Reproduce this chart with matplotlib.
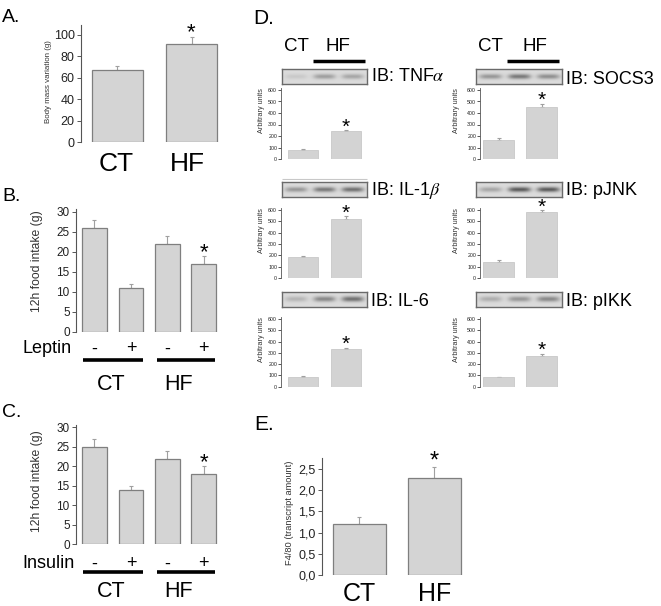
import numpy as np
import matplotlib
matplotlib.use('Agg')
import matplotlib.pyplot as plt
from matplotlib.lines import Line2D

plt.rcParams['font.family'] = ['Liberation Sans', 'DejaVu Sans']
plt.rcParams['mathtext.fontset'] = 'stix'

# ---------------- data ----------------
groups = ["CT", "HF"]
body_mass = [67, 92]
body_mass_err = [4, 6]

treat_signs = ["-", "+", "-", "+"]
leptin_intake = [26, 11, 22, 17]
leptin_err = [2, 1, 2, 2]
insulin_intake = [25, 14, 22, 18]
insulin_err = [2, 1, 2, 2]

proteins = ["IB: TNF$\\alpha$", "IB: SOCS3", "IB: IL-1$\\beta$", "IB: pJNK", "IB: IL-6", "IB: pIKK"]
prot_ct = [75, 165, 185, 145, 85, 83]
prot_hf = [240, 455, 525, 585, 330, 275]
prot_ct_err = [8, 15, 12, 12, 8, 5]
prot_hf_err = [10, 25, 20, 15, 15, 15]
blot_lanes = [[0.12, 0.40, 0.35], [0.45, 0.65, 0.50], [0.45, 0.65, 0.70],
              [0.35, 0.85, 0.85], [0.25, 0.55, 0.70], [0.30, 0.45, 0.55]]

f480 = [1.2, 2.28]
f480_err = [0.17, 0.27]
f480_ticklabels = ["0,0", "0,5", "1,0", "1,5", "2,0", "2,5"]

# ---------------- layout helpers ----------------
W, H = 661, 606
fig = plt.figure(figsize=(W / 100, H / 100), dpi=100)
PT = 100 / 72


def pax(l, t, r, b):
    return fig.add_axes([l / W, 1 - b / H, (r - l) / W, (b - t) / H])


def ftext(x, yc, s, size, ha='left', **kw):
    yb = yc + 0.358 * size * PT
    return fig.text(x / W, 1 - yb / H, s, fontsize=size, ha=ha, va='baseline', **kw)


def fvtext(x, yc, s, size):
    return fig.text(x / W, 1 - yc / H, s, fontsize=size, rotation=90,
                    ha='center', va='center', color='#333333')


def fline(x1, x2, y, lw=2.6, color='black'):
    fig.add_artist(Line2D([x1 / W, x2 / W], [1 - y / H] * 2, transform=fig.transFigure,
                          lw=lw, color=color, solid_capstyle='butt'))


def style_axis(ax, ticksize, tlen=3, pad=1.5):
    for s in ['top', 'right', 'bottom']:
        ax.spines[s].set_visible(False)
    ax.spines['left'].set_color('#555555')
    ax.spines['left'].set_linewidth(0.8)
    ax.tick_params(axis='y', direction='out', length=tlen, width=0.7, color='#555555',
                   labelsize=ticksize, pad=pad, labelcolor='#222222')
    ax.tick_params(axis='x', length=0, labelbottom=False)
    ax.patch.set_alpha(0)


def draw_bars(ax, vals, errs, width, edge='#7f7f7f', lw=0.9, face='#d4d4d4'):
    x = np.arange(len(vals))
    ax.bar(x, vals, width, color=face, edgecolor=edge, linewidth=lw, zorder=2)
    ax.errorbar(x, vals, yerr=[np.zeros(len(vals)), errs], fmt='none', ecolor='#a0a0a0',
                elinewidth=0.8, capsize=1.5, capthick=0.8, zorder=1)


def star(ax, i, top, size=16, gap=6):
    off_px = gap - 0.40 * size * PT
    ax.annotate('*', xy=(i, top), xytext=(0, off_px / PT), textcoords='offset points',
                ha='center', va='baseline', fontsize=size, color='black')


def draw_blot(l, t, r, b, lanes):
    ax = pax(l, t, r, b)
    nx, ny = 170, 30
    X, Y = np.meshgrid(np.linspace(0, 1, nx), np.linspace(0, 1, ny))
    img = np.full((ny, nx), 0.86)
    for i, inten in enumerate(lanes):
        cx = (i + 0.5) / 3
        img -= inten * 0.6 * np.exp(-((X - cx) / 0.13) ** 4) * np.exp(-((Y - 0.5) / 0.17) ** 2)
    ax.imshow(img, cmap='gray', vmin=0, vmax=1, aspect='auto', interpolation='bilinear')
    ax.set_xticks([])
    ax.set_yticks([])
    for s in ax.spines.values():
        s.set_color('#6a6a6a')
        s.set_linewidth(1.0)


# ---------------- Panel A ----------------
ftext(2, 15, "A.", 14)
axA = pax(81, 25, 230, 142)
draw_bars(axA, body_mass, body_mass_err, 0.69)
axA.set_xlim(-0.493, 1.52)
axA.set_ylim(0, 109.3)
axA.set_yticks(range(0, 101, 20))
style_axis(axA, 9)
star(axA, 1, body_mass[1] + body_mass_err[1], gap=8)
fvtext(48, 82, "Body mass variation (g)", 5.7)
ftext(116, 162, groups[0], 19, ha='center')
ftext(187, 162, groups[1], 19, ha='center')

# ---------------- Panel B / C ----------------
def intake_panel(top, zero, ytop, vals, errs, ylab_y, treat, treat_y, line_y, grp_y):
    ax = pax(76, top, 225, zero)
    draw_bars(ax, vals, errs, 0.68)
    ax.set_xlim(-0.507, 3.58)
    ax.set_ylim(0, ytop)
    ax.set_yticks(range(0, 31, 5))
    style_axis(ax, 8.5)
    star(ax, 3, vals[3] + errs[3], gap=7)
    fvtext(36.7, ylab_y, "12h food intake (g)", 8.7)
    ftext(treat[1], treat_y, treat[0], 13, ha='right')
    for i, s in enumerate(treat_signs):
        xc = 76 + (i + 0.507) * 36.46
        ftext(xc, treat_y, s, 13, ha='center')
    fline(83, 143, line_y)
    fline(157, 215, line_y)
    ftext(111, grp_y, groups[0], 15.5, ha='center')
    ftext(179, grp_y, groups[1], 15.5, ha='center')
    return ax


ftext(2, 194, "B.", 14)
intake_panel(209, 332, 30.75, leptin_intake, leptin_err, 261, ("Leptin", 72), 347, 360, 382.5)
ftext(2, 410, "C.", 14)
intake_panel(425, 544.3, 30.6, insulin_intake, insulin_err, 481, ("Insulin", 75), 562, 572, 589.5)

# ---------------- Panel D ----------------
ftext(253, 17, "D.", 15)
cols = [dict(axis=281, c0=303, lab=261.7, blot=(282, 367), ib=371, ct=296.5, hf=337.5, bar=(313, 365)),
        dict(axis=480, c0=498.5, lab=456.7, blot=(476, 562), ib=566, ct=490, hf=535, bar=(507, 559))]
rows = [dict(zero=159, p600=90, blot=(69, 84)),
        dict(zero=278, p600=210, blot=(182, 196.5)),
        dict(zero=386.7, p600=319, blot=(292, 307))]
ib_y = [[75, 78], [189, 189], [300, 300]]

for ci, c in enumerate(cols):
    ftext(c['ct'], 44.5, "CT", 13.5, ha='center')
    ftext(c['hf'], 44.5, "HF", 13.5, ha='center')
    fline(c['bar'][0], c['bar'][1], 60.5, lw=2.5)

for k in range(6):
    ri, ci = k // 2, k % 2
    r, c = rows[ri], cols[ci]
    ppu = (r['zero'] - r['p600']) / 600.0
    top = r['zero'] - 615 * ppu
    left = c['axis']
    right = c['axis'] + 2.0 * 43
    ax = pax(left, top, right, r['zero'])
    draw_bars(ax, [prot_ct[k], prot_hf[k]], [prot_ct_err[k], prot_hf_err[k]], 0.70,
              edge='#c2c2c2', lw=0.5, face='#d3d3d3')
    x0 = (c['axis'] - c['c0']) / 43.0
    ax.set_xlim(x0, x0 + 2.0)
    ax.set_ylim(0, 615)
    ax.set_yticks(range(0, 601, 100))
    style_axis(ax, 3.8, tlen=2, pad=0.8)
    ax.spines['left'].set_linewidth(0.6)
    star(ax, 1, prot_hf[k] + prot_hf_err[k], size=15, gap=6)
    fvtext(c['lab'], top + 22, "Arbitrary units", 5.2)
    draw_blot(c['blot'][0], r['blot'][0], c['blot'][1], r['blot'][1], blot_lanes[k])
    ftext(c['ib'], ib_y[ri][ci], proteins[k], 13)

fline(282, 367, 179, lw=0.8, color='#c8c8c8')

# ---------------- Panel E ----------------
ftext(254, 423, "E.", 15)
axE = pax(321.7, 458, 470, 575)
draw_bars(axE, f480, f480_err, 0.707)
axE.set_xlim(-0.5, 1.48)
axE.set_ylim(0, 2.76)
axE.set_yticks(np.arange(0, 2.51, 0.5))
axE.set_yticklabels(f480_ticklabels)
style_axis(axE, 9)
star(axE, 1, f480[1] + f480_err[1], size=17, gap=9)
fvtext(289, 512.5, "F4/80 (transcript amount)", 6.7)
ftext(359, 592, groups[0], 18, ha='center')
ftext(435, 592, groups[1], 18, ha='center')

fig.savefig("out.png", dpi=100)
